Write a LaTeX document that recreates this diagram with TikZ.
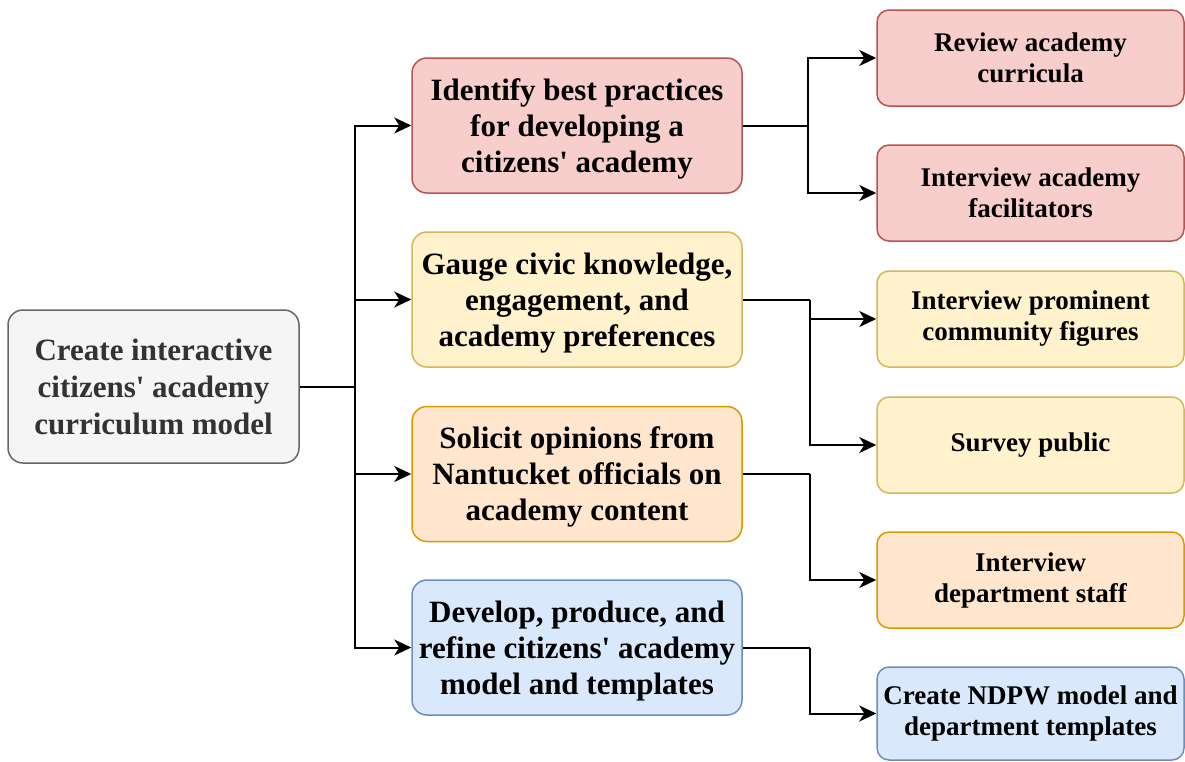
\documentclass[tikz,border=0pt]{standalone}
\usepackage{fontspec}
\setmainfont{Liberation Serif}
\usetikzlibrary{arrows.meta}
\definecolor{redfill}{HTML}{F8CECC}\definecolor{redline}{HTML}{B85450}
\definecolor{yelfill}{HTML}{FFF2CC}\definecolor{yelline}{HTML}{D6B656}
\definecolor{orafill}{HTML}{FFE6CC}\definecolor{oraline}{HTML}{D79B00}
\definecolor{blufill}{HTML}{DAE8FC}\definecolor{bluline}{HTML}{6C8EBF}
\definecolor{grafill}{HTML}{F5F5F5}\definecolor{graline}{HTML}{666666}
\definecolor{gratext}{HTML}{333333}
\newcommand{\q}{\textquotesingle}
\begin{document}
\begin{tikzpicture}[x=1pt,y=-1pt,
  box/.style={draw, rounded corners=15pt, line width=1.5pt, align=center, inner sep=0pt},
  bigbox/.style={box, minimum width=330pt, minimum height=135pt, text depth=0pt, font=\fontsize{31}{36}\selectfont\bfseries},
  smallbox/.style={box, rounded corners=12pt, minimum width=307pt, minimum height=96pt, font=\fontsize{27}{31}\selectfont\bfseries},
  redb/.style={fill=redfill, draw=redline},
  yelb/.style={fill=yelfill, draw=yelline},
  orab/.style={fill=orafill, draw=oraline},
  blub/.style={fill=blufill, draw=bluline},
  arr/.style={line width=2pt, -{Stealth[length=17pt,width=16pt,inset=5pt]}},
  ln/.style={line width=2pt}]
\useasboundingbox (0,0) rectangle (1185,761);
\node[box, fill=grafill, draw=graline, text=gratext, minimum width=291pt, minimum height=153pt, font=\fontsize{31}{37}\selectfont\bfseries] (root) at (153.5,386.5) {Create interactive\\citizens\q{} academy\\curriculum model};
\node[bigbox, redb] (m1) at (577,125.5) {Identify best practices\\for developing a\\citizens\q{} academy};
\node[bigbox, yelb] (m2) at (577,299.5) {Gauge civic knowledge,\\engagement, and\\academy preferences};
\node[bigbox, orab] (m3) at (577,474) {Solicit opinions from\\Nantucket officials on\\academy content};
\node[bigbox, blub] (m4) at (577,647.5) {Develop, produce, and\\refine citizens\q{} academy\\model and templates};
\node[smallbox, redb] (r1) at (1030.5,58) {Review academy\\curricula};
\node[smallbox, redb] (r2) at (1030.5,193) {Interview academy\\facilitators};
\node[smallbox, yelb] (r3) at (1030.5,319) {Interview prominent\\community figures};
\node[smallbox, yelb] (r4) at (1030.5,445) {Survey public};
\node[smallbox, orab] (r5) at (1030.5,580) {Interview\\department staff};
\node[smallbox, blub, minimum height=93pt] (r6) at (1030.5,713.5) {Create NDPW model and\\department templates};
\coordinate (j0) at (355,386.5);
\coordinate (j1) at (808,125.5);
\coordinate (j2) at (810,299.5);
\coordinate (j3) at (810,474);
\coordinate (j4) at (810,647.5);
\draw[ln] (root.east) -- (j0);
\draw[arr] (j0) |- (m1.west);
\draw[arr] (j0) |- (m2.west);
\draw[arr] (j0) |- (m3.west);
\draw[arr] (j0) |- (m4.west);
\draw[ln] (m1.east) -- (j1);
\draw[arr] (j1) |- (r1.west);
\draw[arr] (j1) |- (r2.west);
\draw[ln] (m2.east) -- (j2);
\draw[arr] (j2) |- (r3.west);
\draw[arr] (j2) |- (r4.west);
\draw[ln] (m3.east) -- (j3);
\draw[arr] (j3) |- (r5.west);
\draw[ln] (m4.east) -- (j4);
\draw[arr] (j4) |- (r6.west);
\end{tikzpicture}
\end{document}
